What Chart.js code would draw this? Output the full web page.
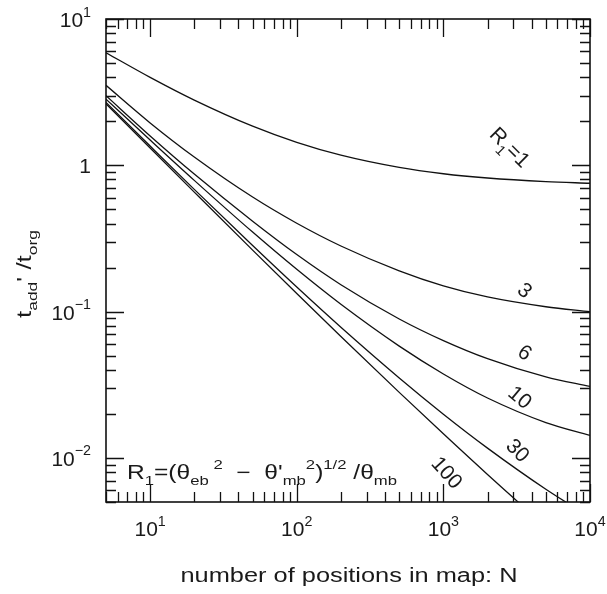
<!DOCTYPE html>
<html><head><meta charset="utf-8">
<script src="https://cdn.jsdelivr.net/npm/chart.js@4.4.1/dist/chart.umd.min.js"></script>
<style>html,body{margin:0;background:#fff}canvas{display:block}</style>
</head><body>
<canvas id="c" width="607" height="594"></canvas>
<script>
// number of positions N (x) and t_add'/t_org for each R1 curve
const N = [5, 10, 20, 50, 100, 200, 500, 1000, 2000, 5000, 10000];
const R1_1 = [5.88, 3.99, 2.79, 1.85, 1.435, 1.172, 0.967, 0.876, 0.819, 0.774, 0.754];
const R1_3 = [3.52, 1.95, 1.14, 0.607, 0.402, 0.281, 0.190, 0.150, 0.126, 0.108, 0.100];
const R1_6 = [2.99, 1.587, 0.871, 0.415, 0.2456, 0.1528, 0.0891, 0.0634, 0.0477, 0.0358, 0.0308];
const R1_10 = [2.83, 1.488, 0.789, 0.3496, 0.1945, 0.1122, 0.0581, 0.0375, 0.0257, 0.01746, 0.01426];
const R1_30 = [2.69, 1.354, 0.685, 0.2828, 0.1472, 0.0782, 0.0352, 0.0199, 0.01167, 0.00611, 0.00394];
const R1_100 = [2.63, 1.312, 0.656, 0.2634, 0.133, 0.0677, 0.02807, 0.01462, 0.00771, 0.00339, 0.00185];

const X_TICKS = [10, 100, 1000, 10000], X_EXP = ["1", "2", "3", "4"];
const Y_TICKS = [0.01, 0.1, 1, 10], Y_EXP = ["\u22122", "\u22121", "", "1"];

// curve labels: [parts, N, t, angle in degrees]
const CURVE_LABELS = [
  [[["R", 0], ["1", 1], ["=1", 0]], 2850, 1.33, 45],
  [[["3", 0]], 3600, 0.14, 40],
  [[["6", 0]], 3600, 0.0527, 35],
  [[["10", 0]], 3340, 0.026, 40],
  [[["30", 0]], 3230, 0.0113, 45],
  [[["100", 0]], 1060, 0.00797, 48]
];

const FONT = '"Liberation Sans", Arial, sans-serif';
const INK = "#111", TEXT = "#1a1a1a";

// parts: [text, kind] kind 0 normal, 1 subscript, 2 superscript
function richWidth(ctx, parts, size) {
  let w = 0;
  for (const [t, k] of parts) {
    ctx.font = `${k ? size * 0.68 : size}px ${FONT}`;
    w += ctx.measureText(t).width;
  }
  return w;
}
function rich(ctx, parts, x, y, size, align, width) {
  const w = richWidth(ctx, parts, size);
  const sx = width ? width / w : 1;
  ctx.save();
  ctx.translate(x, y); ctx.scale(sx, 1);
  let cx = align === "center" ? -w / 2 : align === "right" ? -w : 0;
  ctx.textBaseline = "alphabetic"; ctx.textAlign = "left";
  for (const [t, k] of parts) {
    const fs = k ? size * 0.68 : size;
    ctx.font = `${fs}px ${FONT}`;
    const dy = k === 1 ? size * 0.32 : k === 2 ? -size * 0.5 : 0;
    ctx.fillText(t, cx, dy);
    cx += ctx.measureText(t).width;
  }
  ctx.restore();
}

const decor = {
  id: "decor",
  afterDraw(chart) {
    const { ctx, chartArea: a, scales: { x, y } } = chart;
    ctx.save();
    ctx.strokeStyle = INK; ctx.fillStyle = TEXT;
    // ticks on all four sides, pointing inward
    ctx.lineWidth = 1.3;
    ctx.beginPath();
    for (let d = 1; d <= 1000; d *= 10) for (let m = 1; m <= 10; m++) {
      const v = d * m;
      if (v < 5 || v > 10000) continue;
      const len = m === 1 || m === 10 ? 18 : 10;
      const px = Math.round(x.getPixelForValue(v)) + 0.5;
      ctx.moveTo(px, a.bottom); ctx.lineTo(px, a.bottom - len);
      ctx.moveTo(px, a.top); ctx.lineTo(px, a.top + len);
    }
    for (let d = 0.001; d <= 10; d *= 10) for (let m = 1; m <= 9; m++) {
      const v = d * m;
      if (v < 0.0049 || v > 10.01) continue;
      const len = m === 1 ? 18 : 10;
      const py = Math.round(y.getPixelForValue(v)) + 0.5;
      ctx.moveTo(a.left, py); ctx.lineTo(a.left + len, py);
      ctx.moveTo(a.right, py); ctx.lineTo(a.right - len, py);
    }
    ctx.stroke();
    ctx.lineWidth = 1.6;
    ctx.strokeRect(a.left, a.top, a.right - a.left, a.bottom - a.top);

    // tick labels
    X_TICKS.forEach((v, i) => {
      rich(ctx, [["10", 0], [X_EXP[i], 2]], x.getPixelForValue(v), a.bottom + 34, 21, "center");
    });
    Y_TICKS.forEach((v, i) => {
      const parts = Y_EXP[i] ? [["10", 0], [Y_EXP[i], 2]] : [["1", 0]];
      rich(ctx, parts, 91, y.getPixelForValue(v) + 8, 21, "right");
    });

    // axis titles
    rich(ctx, [["number of positions in map: N", 0]], (a.left + a.right) / 2 + 1, 582, 20, "center", 337);
    ctx.save();
    ctx.translate(31, 274); ctx.rotate(-Math.PI / 2);
    rich(ctx, [["t", 0], ["add", 1], ["'", 0], [" /t", 0], ["org", 1]], 0, 0, 20, "center", 88);
    ctx.restore();

    // R1 definition
    rich(ctx, [["R", 0], ["1", 1], ["=(\u03b8", 0], ["eb", 1], [" 2", 2], ["  \u2212  \u03b8'", 0], ["mb", 1],
      ["2", 2], [")", 0], ["1/2", 2], [" /\u03b8", 0], ["mb", 1]], a.left + 21, 479, 20, "left", 270);

    // curve labels
    for (const [parts, n, t, ang] of CURVE_LABELS) {
      ctx.save();
      ctx.translate(x.getPixelForValue(n), y.getPixelForValue(t));
      ctx.rotate(ang * Math.PI / 180);
      rich(ctx, parts, 0, 7, 21, "center");
      ctx.restore();
    }
    ctx.restore();
  }
};

const curve = (data) => ({
  data: N.map((n, i) => ({ x: n, y: data[i] })),
  borderColor: INK, borderWidth: 1.3, pointRadius: 0,
  cubicInterpolationMode: "monotone", fill: false
});

new Chart(document.getElementById("c"), {
  type: "line",
  data: { datasets: [curve(R1_1), curve(R1_3), curve(R1_6), curve(R1_10), curve(R1_30), curve(R1_100)] },
  options: {
    responsive: false, animation: false, devicePixelRatio: 1,
    layout: { padding: { left: 106, top: 19, right: 17, bottom: 92 } },
    plugins: { legend: { display: false }, tooltip: { enabled: false } },
    scales: {
      x: {
        type: "logarithmic", min: 5, max: 10000,
        ticks: { display: false }, grid: { display: false, drawTicks: false }, border: { display: false }
      },
      y: {
        type: "logarithmic", min: 0.005, max: 10,
        ticks: { display: false }, grid: { display: false, drawTicks: false }, border: { display: false }
      }
    }
  },
  plugins: [decor]
});
</script>
</body></html>
